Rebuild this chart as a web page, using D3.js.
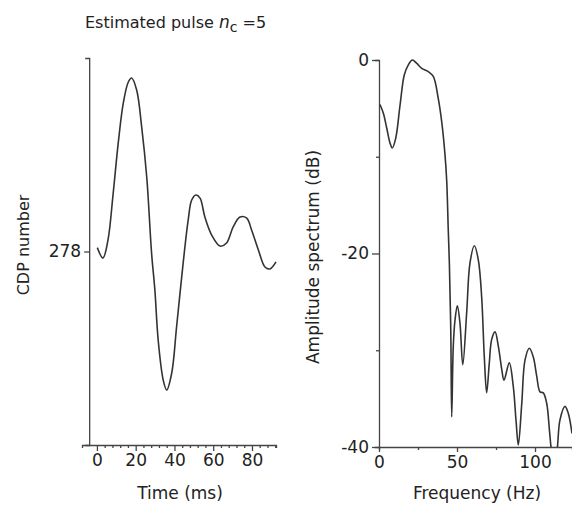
<!DOCTYPE html>
<html>
<head>
<meta charset="utf-8">
<script src="https://cdn.jsdelivr.net/npm/d3@7"></script>
<style>
  body { margin: 0; background: #fff; }
  text { font-family: "DejaVu Sans", sans-serif; fill: #222; }
</style>
</head>
<body>
<script>
        // pulse trace, time in ms and relative amplitude
        var pulseTime = [0.2, 3.1, 5.7, 8.4, 11.0, 13.6, 16.2, 17.9, 20.5, 23.1, 25.7, 28.2, 29.9, 31.6, 34.2, 36.0, 38.6, 41.1, 44.5, 47.1, 48.9, 51.1, 53.2, 55.7, 59.2, 63.5, 66.9, 70.3, 73.8, 77.3, 79.8, 83.3, 86.7, 89.3, 92.4]
        var pulseAmp = [0.02, -0.034, 0.059, 0.302, 0.561, 0.767, 0.876, 0.897, 0.835, 0.643, 0.385, -0.008, -0.199, -0.457, -0.664, -0.716, -0.628, -0.39, -0.059, 0.163, 0.266, 0.292, 0.276, 0.178, 0.085, 0.028, 0.044, 0.127, 0.178, 0.173, 0.111, 0.008, -0.08, -0.09, -0.054]

        // amplitude spectrum, Hz and dB
        var specFreq = [0.6, 2.8, 4.9, 7.1, 8.5, 10.7, 13.5, 16.2, 18.8, 21.4, 24.2, 27.4, 31.6, 34.8, 38.0, 40.2, 42.3, 43.4, 44.4, 45.1, 46.0, 46.6, 47.6, 48.7, 50.2, 51.9, 53.7, 56.2, 58.3, 61.1, 63.7, 65.8, 67.5, 69.0, 70.7, 72.2, 74.4, 76.5, 78.7, 80.1, 83.5, 86.1, 87.8, 89.3, 91.5, 93.6, 96.4, 98.9, 101.1, 103.2, 105.3, 107.5, 109.2, 110.3, 112.3, 114.3, 116.0, 119.2, 121.3, 123.7]
        var specDb = [-4.6, -5.5, -7.0, -8.6, -9.1, -8.1, -4.65, -1.55, -0.5, 0, -0.35, -0.86, -1.2, -1.7, -4.0, -6.4, -9.8, -12.5, -17.6, -21, -27.9, -36.9, -29.6, -26.9, -25.4, -27.2, -31.5, -26.1, -21, -19.2, -20.7, -24.5, -30.7, -34.4, -31.3, -28.9, -28.1, -29.6, -32, -33.1, -31.3, -33.8, -37.2, -39.8, -35.5, -31, -29.8, -30.7, -32.7, -34.3, -34.4, -35.5, -38.2, -40.1, -42.5, -40.1, -37.2, -35.8, -36.5, -38.6]

        var timeTicks = [0, 4, 8, 12, 16, 20, 24, 28, 32, 36, 40, 44, 48, 52, 56, 60, 64, 68, 72, 76, 80, 84, 88, 92]
        var timeLabels = [0, 20, 40, 60, 80]
        var cdpLabel = "278"
        var freqTicks = [0, 25, 50, 75, 100]
        var freqLabels = [0, 50, 100]
        var dbTicks = [0, -10, -20, -30, -40]
        var dbLabels = [0, -20, -40]

        var width = 572
        var height = 510
        var ink = "#333"

        var svg = d3.select("body")
            .append("svg")
            .attr("width", width)
            .attr("height", height)

        // ---- left panel: pulse ----
        var xL = d3.scaleLinear().domain([-7.7, 92.4]).range([82, 276])
        var yL = d3.scaleLinear().domain([-1, 1]).range([445, 58])

        var xAxisL = svg.append("g")
            .attr("transform", "translate(0," + yL(-1) + ")")
            .call(d3.axisBottom(xL).tickValues(timeTicks).tickSizeOuter(0)
                .tickSize(3)
                .tickFormat(function(d) { return timeLabels.indexOf(d) > -1 ? d : "" }))
        xAxisL.selectAll(".tick line").attr("y2", function(d) { return timeLabels.indexOf(d) > -1 ? 6 : 3 })

        var yAxisL = svg.append("g")
            .attr("transform", "translate(" + xL(-4) + ",0)")
            .call(d3.axisLeft(yL).tickValues([0]).tickSize(5).tickSizeOuter(4)
                .tickFormat(function() { return cdpLabel }))

        var line = d3.line()
            .x(function(d, i) { return xL(pulseTime[i]) })
            .y(function(d) { return yL(d) })
            .curve(d3.curveCatmullRom)

        svg.append("path")
            .attr("d", line(pulseAmp))
            .attr("fill", "none")
            .attr("stroke", ink)
            .attr("stroke-width", 1.6)

        // ---- right panel: spectrum ----
        var xR = d3.scaleLinear().domain([0, 123.7]).range([379, 572])
        var yR = d3.scaleLinear().domain([-40, 0]).range([447, 60])

        var xAxisR = svg.append("g")
            .attr("transform", "translate(0," + yR(-40) + ")")
            .call(d3.axisBottom(xR).tickValues(freqTicks).tickSizeOuter(0)
                .tickSize(3)
                .tickFormat(function(d) { return freqLabels.indexOf(d) > -1 ? d : "" }))
        xAxisR.selectAll(".tick line").attr("y2", function(d) { return freqLabels.indexOf(d) > -1 ? 5 : 3 })

        var yAxisR = svg.append("g")
            .attr("transform", "translate(" + xR(0) + ",0)")
            .call(d3.axisLeft(yR).tickValues(dbTicks).tickSize(7).tickSizeOuter(4)
                .tickFormat(function(d) { return dbLabels.indexOf(d) > -1 ? d : "" }))
        yAxisR.selectAll(".tick line").attr("x2", function(d) { return dbLabels.indexOf(d) > -1 ? -7 : -3 })

        svg.append("clipPath").attr("id", "specClip")
            .append("rect")
            .attr("x", xR(0)).attr("y", yR(0) - 5)
            .attr("width", xR(123.7) - xR(0)).attr("height", yR(-40) - yR(0) + 5)

        var specLine = d3.line()
            .x(function(d, i) { return xR(specFreq[i]) })
            .y(function(d) { return yR(d) })
            .curve(d3.curveCatmullRom)

        svg.append("path")
            .attr("d", specLine(specDb))
            .attr("clip-path", "url(#specClip)")
            .attr("fill", "none")
            .attr("stroke", ink)
            .attr("stroke-width", 1.6)

        // axis styling, the scanned figure is a bit grey
        svg.selectAll(".domain, .tick line").attr("stroke", "#444").attr("stroke-width", 1.3)
        svg.selectAll(".tick text")
            .attr("font-family", "DejaVu Sans, sans-serif")
            .attr("font-size", 17)
            .attr("fill", "#222")
        xAxisL.selectAll(".tick text").attr("y", 9)
        xAxisR.selectAll(".tick text").attr("y", 9)

        // ---- titles and labels ----
        var title = svg.append("text")
            .attr("x", 85).attr("y", 28)
            .attr("font-size", 16)
        title.append("tspan").text("Estimated pulse ")
        title.append("tspan").attr("font-style", "italic").attr("font-size", 17).text("n")
        title.append("tspan").attr("dy", 4).attr("font-size", 14).text("c")
        title.append("tspan").attr("dy", -4).text(" =5")

        svg.append("text")
            .attr("transform", "translate(29,245) rotate(-90)")
            .attr("text-anchor", "middle")
            .attr("font-size", 16)
            .text("CDP number")

        svg.append("text")
            .attr("transform", "translate(319,257) rotate(-90)")
            .attr("text-anchor", "middle")
            .attr("font-size", 17)
            .text("Amplitude spectrum (dB)")

        svg.append("text")
            .attr("x", 180).attr("y", 499)
            .attr("text-anchor", "middle")
            .attr("font-size", 17)
            .text("Time (ms)")

        svg.append("text")
            .attr("x", 477).attr("y", 499)
            .attr("text-anchor", "middle")
            .attr("font-size", 17)
            .text("Frequency (Hz)")
</script>
</body>
</html>
